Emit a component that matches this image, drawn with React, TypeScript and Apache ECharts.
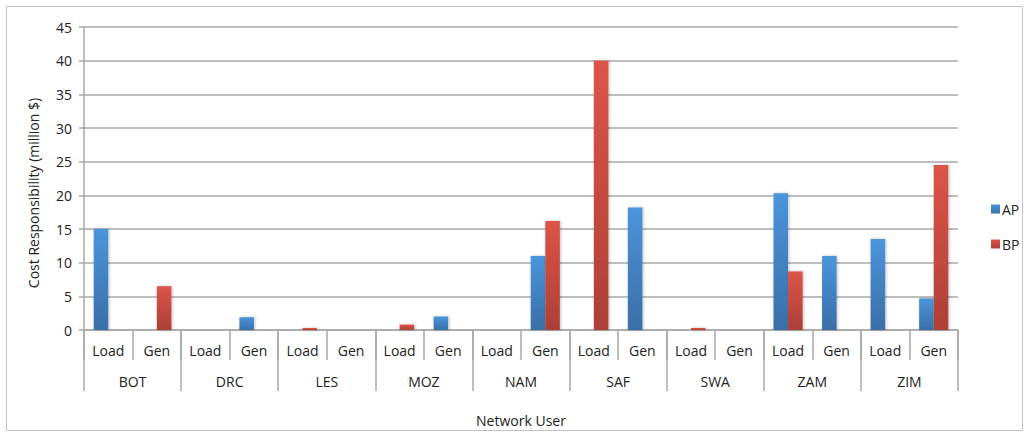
import React, { useEffect, useRef } from "react";
import * as echarts from "echarts";

const countries = ["BOT", "DRC", "LES", "MOZ", "NAM", "SAF", "SWA", "ZAM", "ZIM"];
const subCategories = ["Load", "Gen"];
const categories = countries.flatMap(() => subCategories);
const apValues = [15, 0, 0, 1.9, 0, 0, 0, 2.0, 0, 11, 0, 18.2, 0, 0, 20.3, 11, 13.5, 4.7];
const bpValues = [0, 6.5, 0, 0, 0.3, 0, 0.8, 0, 0, 16.2, 40, 0, 0.3, 0, 8.7, 0, 0, 24.5];
const yTicks = { min: 0, max: 45, interval: 5 };

const FONT = "'Open Sans', 'Noto Sans', sans-serif";

function grad(top: string, bottom: string) {
  return new echarts.graphic.LinearGradient(0, 0, 0, 1, [
    { offset: 0, color: top },
    { offset: 1, color: bottom },
  ]);
}

export default function App() {
  const ref = useRef<HTMLDivElement>(null);
  useEffect(() => {
    if (!ref.current) return;
    const chart = echarts.init(ref.current, null, { renderer: "svg" });
    const gridColor = "#a9a9a9";
    chart.setOption({
      animation: false,
      textStyle: { fontFamily: FONT },
      grid: { left: 84, right: 71, top: 27, bottom: 105 },
      legend: {
        orient: "vertical",
        left: 986,
        top: 197,
        itemWidth: 9,
        itemHeight: 9,
        itemGap: 21,
        icon: "rect",
        textStyle: { fontSize: 14, color: "#222", fontFamily: FONT, padding: [0, 0, 0, -3] },
        data: ["AP", "BP"],
      },
      xAxis: [
        {
          type: "category",
          data: categories,
          position: "bottom",
          axisLine: { lineStyle: { color: gridColor, width: 1.5 } },
          axisTick: { show: true, interval: 0, length: 30, lineStyle: { color: gridColor, width: 1.5 } },
          axisLabel: { interval: 0, margin: 13, fontSize: 14, color: "#222", fontFamily: FONT },
        },
        {
          type: "category",
          data: countries,
          position: "bottom",
          axisLine: { show: false },
          axisTick: { show: true, interval: 0, length: 61, lineStyle: { color: gridColor, width: 1.5 } },
          axisLabel: { interval: 0, margin: 44, fontSize: 14, color: "#222", fontFamily: FONT },
        },
      ],
      yAxis: {
        type: "value",
        min: yTicks.min,
        max: yTicks.max,
        interval: yTicks.interval,
        axisLine: { show: true, lineStyle: { color: gridColor, width: 1.5 } },
        axisTick: { show: true, length: 5, lineStyle: { color: gridColor, width: 1.5 } },
        axisLabel: { fontSize: 14, color: "#222", margin: 12, fontFamily: FONT },
        splitLine: { lineStyle: { color: gridColor, width: 1.5 } },
      },
      series: [
        {
          name: "AP",
          type: "bar",
          data: apValues,
          xAxisIndex: 0,
          barGap: "0%",
          barCategoryGap: "40%",
          itemStyle: {
            color: grad("#4b95dc", "#3a6ea7"),
            shadowColor: "rgba(0,0,0,0.25)",
            shadowBlur: 3,
            shadowOffsetX: 1,
          },
        },
        {
          name: "BP",
          type: "bar",
          data: bpValues,
          xAxisIndex: 0,
          barGap: "0%",
          barCategoryGap: "40%",
          itemStyle: {
            color: grad("#dc5449", "#ac4037"),
            shadowColor: "rgba(0,0,0,0.25)",
            shadowBlur: 3,
            shadowOffsetX: 1,
          },
        },
      ],
      graphic: [
        {
          type: "rect",
          shape: { x: 6.5, y: 6.5, width: 1016, height: 424 },
          style: { fill: "none", stroke: "#c4c4c4", lineWidth: 1 },
          silent: true,
          z: -1,
        },
        {
          type: "text",
          x: 33,
          y: 193,
          rotation: Math.PI / 2,
          style: {
            text: "Cost Responsibility (million $)",
            fontSize: 14,
            fill: "#222",
            fontFamily: FONT,
            align: "center",
            verticalAlign: "middle",
          },
        },
        {
          type: "text",
          x: 521,
          y: 420,
          style: {
            text: "Network User",
            fontSize: 14,
            fill: "#222",
            fontFamily: FONT,
            align: "center",
            verticalAlign: "middle",
          },
        },
      ],
    });
    return () => chart.dispose();
  }, []);
  return (
    <div
      ref={ref}
      style={{ position: "fixed", left: 0, top: 0, width: 1029, height: 435, background: "#fff" }}
    />
  );
}
